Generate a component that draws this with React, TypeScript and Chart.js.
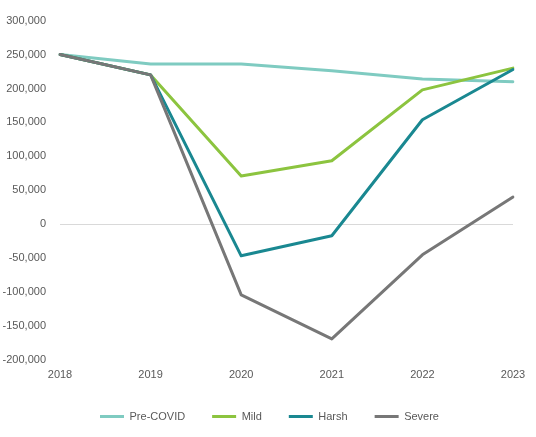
import React, { useEffect, useRef } from "react";
import { Chart, registerables } from "chart.js";

Chart.register(...registerables);

const years = ["2018", "2019", "2020", "2021", "2022", "2023"];
const preCovid = [250000, 236000, 236000, 226000, 214000, 210000];
const mild = [250000, 220000, 71000, 93500, 198000, 230000];
const harsh = [250000, 220000, -46500, -17000, 154000, 228000];
const severe = [250000, 220000, -104000, -169000, -45000, 40000];

const seriesNames = ["Pre-COVID", "Mild", "Harsh", "Severe"];
const seriesColors = ["#7fcbc1", "#8cc43f", "#1a8891", "#777777"];

const FONT = "'Liberation Sans', Arial, sans-serif";
const TEXT = "#595959";
const LEGEND_SHIFT = 13;

const legendShift = {
  id: "legendShift",
  afterLayout(chart: any) {
    const lg = chart.legend;
    if (lg) {
      lg.$baseLeft = lg.left;
      lg.$baseRight = lg.right;
    }
  },
  beforeDraw(chart: any) {
    const lg = chart.legend;
    if (lg && lg.$baseLeft !== undefined) {
      lg.left = lg.$baseLeft + LEGEND_SHIFT;
      lg.right = lg.$baseRight + LEGEND_SHIFT;
    }
  },
};

export default function App() {
  const ref = useRef<HTMLCanvasElement | null>(null);

  useEffect(() => {
    document.body.style.margin = "0";
    const values = [preCovid, mild, harsh, severe];
    const chart = new Chart(ref.current as HTMLCanvasElement, {
      type: "line",
      data: {
        labels: years,
        datasets: seriesNames.map((name, i) => ({
          label: name,
          data: values[i],
          borderColor: seriesColors[i],
          backgroundColor: seriesColors[i],
          borderWidth: 3,
          pointRadius: 0,
          pointHoverRadius: 0,
          tension: 0,
          fill: false,
          borderJoinStyle: "round" as const,
          borderCapStyle: "round" as const,
          order: seriesNames.length - 1 - i,
        })),
      },
      plugins: [legendShift],
      options: {
        animation: false,
        responsive: false,
        maintainAspectRatio: false,
        layout: { padding: { left: 0, right: 23, top: 13, bottom: 5 } },
        plugins: {
          tooltip: { enabled: false },
          legend: {
            position: "bottom",
            labels: {
              boxWidth: 24,
              boxHeight: 3,
              padding: 27,
              color: TEXT,
              font: { family: FONT, size: 11 },
              sort: (a: any, b: any) => a.datasetIndex - b.datasetIndex,
              generateLabels: (c: any) =>
                Chart.defaults.plugins.legend.labels
                  .generateLabels(c)
                  .map((l: any) => ({ ...l, lineWidth: 0, fillStyle: l.strokeStyle })),
            },
          },
        },
        scales: {
          x: {
            type: "category",
            offset: false,
            grid: { display: false, drawTicks: false },
            border: { display: false },
            ticks: {
              color: TEXT,
              font: { family: FONT, size: 11 },
              padding: 8,
              maxRotation: 0,
            },
            afterFit: (s: any) => {
              s.height = 24;
            },
          },
          y: {
            min: -200000,
            max: 300000,
            border: { display: false },
            grid: {
              drawTicks: false,
              lineWidth: 1,
              color: (ctx: any) => (ctx.tick && ctx.tick.value === 0 ? "#d9d9d9" : "rgba(0,0,0,0)"),
            },
            ticks: {
              stepSize: 50000,
              color: TEXT,
              font: { family: FONT, size: 11 },
              padding: 14,
              callback: (v: any) => Number(v).toLocaleString("en-US"),
            },
            afterFit: (s: any) => {
              s.width = 60;
            },
          },
        },
      },
    });
    return () => chart.destroy();
  }, []);

  return (
    <div style={{ width: 536, height: 437 }}>
      <canvas ref={ref} width={536} height={437} style={{ display: "block" }} />
    </div>
  );
}
